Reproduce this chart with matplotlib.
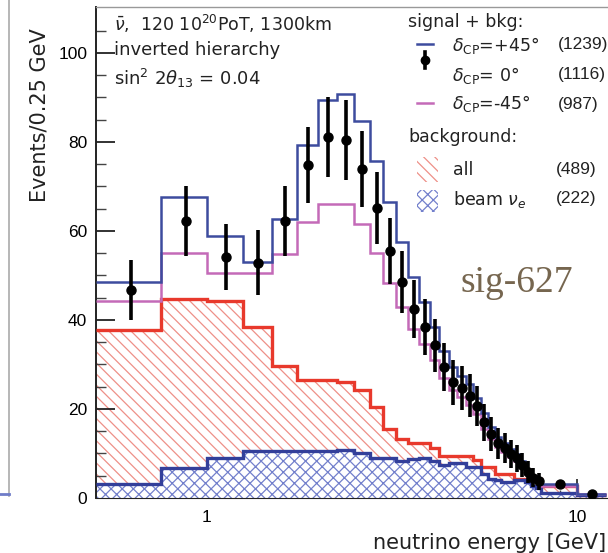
import matplotlib
matplotlib.use("Agg")
import matplotlib.pyplot as plt
from matplotlib.lines import Line2D
from matplotlib.patches import Rectangle
from matplotlib.ticker import FixedLocator, NullFormatter

# ---------------- data (events / 0.25 GeV) ----------------
bin_edges = [0.5, 0.75, 1.0, 1.25, 1.5, 1.75, 2.0, 2.25, 2.5, 2.75, 3.0, 3.25,
             3.5, 3.75, 4.0, 4.25, 4.5, 4.75, 5.0, 5.25, 5.5, 5.75, 6.0, 6.25,
             6.5, 6.75, 7.0, 7.25, 7.5, 7.75, 8.0, 10.0, 12.0]

sig_plus45 = [48.5, 67.6, 58.9, 53.1, 62.7, 79.2, 89.3, 90.8, 84.6, 75.8, 66.6,
              57.6, 49.7, 44.0, 38.5, 33.0, 29.5, 27.5, 25.5, 22.5, 19.0, 16.0,
              13.8, 12.3, 11.0, 9.8, 8.2, 6.4, 5.0, 4.2, 3.2, 0.9]
sig_zero = [46.7, 62.2, 54.2, 52.9, 62.2, 74.8, 81.0, 80.4, 73.9, 65.2, 55.5,
            48.5, 42.5, 38.4, 34.3, 29.5, 26.0, 24.7, 23.0, 20.6, 17.0, 14.4,
            12.3, 11.2, 9.9, 8.9, 7.4, 5.8, 4.6, 3.8, 3.1, 0.8]
sig_zero_err = [6.8, 7.9, 7.4, 7.3, 7.9, 8.6, 9.0, 9.0, 8.6, 8.1, 7.4, 7.0, 6.5,
                6.2, 5.9, 5.4, 5.1, 5.0, 4.8, 4.5, 4.1, 3.8, 3.5, 3.3, 3.1, 3.0,
                2.7, 2.4, 2.1, 1.9, 0.6, 0.3]
sig_minus45 = [44.3, 55.0, 50.6, 50.6, 54.9, 62.1, 66.1, 66.1, 61.6, 55.0, 48.3,
               43.0, 38.0, 34.5, 31.0, 27.0, 24.3, 22.7, 21.0, 18.8, 15.5, 13.2,
               11.4, 10.3, 9.1, 8.2, 6.9, 5.4, 4.3, 3.6, 2.8, 0.8]
bkg_all = [37.8, 44.7, 44.3, 38.5, 29.7, 26.5, 26.5, 26.1, 24.3, 20.4, 15.4,
           13.2, 12.3, 12.3, 11.2, 9.4, 9.4, 9.4, 9.4, 8.5, 7.0, 7.0, 5.5, 5.5,
           5.5, 4.2, 4.2, 4.2, 4.2, 4.2, 2.6, 0.6]
bkg_beam = [3.1, 6.8, 9.0, 10.6, 10.6, 10.6, 10.6, 10.8, 10.0, 8.9, 8.9, 8.2,
            8.7, 8.9, 8.2, 7.4, 7.8, 7.8, 7.0, 7.0, 5.5, 4.2, 4.0, 3.7, 3.7,
            4.1, 4.0, 3.6, 2.6, 2.2, 1.1, 0.6]

legend_counts = ["(1239)", "(1116)", "(987)", "(489)", "(222)"]

bin_centers = [(a + b) / 2 for a, b in zip(bin_edges[:-1], bin_edges[1:])]

# ---------------- style ----------------
W, H = 608, 553
C_BLUE = "#3d4c9e"
C_PINK = "#c46ab8"
C_RED = "#e8392c"
C_RED_H = "#ee9088"
C_BEAM = "#333f9a"
C_BEAM_H = "#7380cc"
TXT = "DejaVu Sans"
HATCH_RED = "\\\\\\"
HATCH_BEAM = "xxx"

plt.rcParams["font.family"] = ["Liberation Sans", "DejaVu Sans"]
plt.rcParams["mathtext.fontset"] = "dejavusans"
plt.rcParams["hatch.linewidth"] = 0.9

fig = plt.figure(figsize=(W / 100, H / 100), dpi=100)


def fx(px):
    return px / W


def fy(py):
    return 1 - py / H


ax = fig.add_axes([95.6 / W, 1 - 498 / H, 517.2 / W, 491 / H])
ax.set_xscale("log")
ax.set_xlim(0.5, 12.5)
ax.set_ylim(0, 110.3)

# background fills
ax.stairs(bkg_all, bin_edges, baseline=0, fill=True, facecolor="none",
          edgecolor=C_RED_H, hatch=HATCH_RED, linewidth=0, zorder=1)
ax.stairs(bkg_beam, bin_edges, baseline=0, fill=True, facecolor="white",
          edgecolor=C_BEAM_H, hatch=HATCH_BEAM, linewidth=0, zorder=2)
ax.stairs(bkg_all, bin_edges, baseline=None, color=C_RED, linewidth=2.4, zorder=3)
ax.stairs(bkg_beam, bin_edges, baseline=None, color=C_BEAM, linewidth=2.4, zorder=4)

# signal + background
ax.stairs(sig_minus45, bin_edges, baseline=None, color=C_PINK, linewidth=1.8, zorder=5)
ax.stairs(sig_plus45, bin_edges, baseline=None, color=C_BLUE, linewidth=1.8, zorder=6)
ax.errorbar(bin_centers, sig_zero, yerr=sig_zero_err, fmt="o", color="black",
            markersize=6.5, elinewidth=2.6, capsize=0, zorder=7)

# axes styling
ax.spines["right"].set_visible(False)
ax.spines["top"].set_color("#999999")
ax.spines["top"].set_linewidth(1.0)
ax.spines["left"].set_color("#222222")
ax.spines["left"].set_linewidth(1.4)
ax.spines["bottom"].set_color("#222222")

ax.set_yticks([0, 20, 40, 60, 80, 100])
ax.yaxis.set_minor_locator(FixedLocator([5, 10, 15, 25, 30, 35, 45, 50, 55, 65,
                                         70, 75, 85, 90, 95, 105]))
ax.set_xticks([1, 10], labels=["1", "10"])
ax.xaxis.set_minor_locator(FixedLocator([0.6, 0.7, 0.8, 0.9, 2, 3, 4, 5, 6, 7, 8, 9]))
ax.xaxis.set_minor_formatter(NullFormatter())
ax.tick_params(axis="y", which="major", direction="in", length=14, width=1.3,
               labelsize=12.5, pad=6, color="#222222")
ax.tick_params(axis="y", which="minor", direction="in", length=7, width=1.0,
               color="#444444")
ax.tick_params(axis="x", which="major", direction="in", length=14, width=1.2,
               labelsize=12.5, pad=9, color="#222222")
ax.tick_params(axis="x", which="minor", direction="in", length=6, width=1.0,
               color="#444444")

# axis titles
fig.text(fx(40), fy(28), "Events/0.25 GeV", rotation=90, ha="center", va="top",
         fontsize=15, family=TXT, color="#222222")
fig.text(fx(606), fy(543), "neutrino energy [GeV]", ha="right", va="center",
         fontsize=15, family=TXT, color="#222222")

# info text
fig.text(fx(114), fy(24), r"$\bar{\nu}$,  120 10$^{20}$PoT, 1300km",
         ha="left", va="center", fontsize=12.5, family=TXT, color="#222222")
fig.text(fx(114), fy(50), "inverted hierarchy", ha="left", va="center",
         fontsize=13, family=TXT, color="#222222")
fig.text(fx(114), fy(78), r"sin$^{2}$ 2$\theta_{13}$ = 0.04", ha="left",
         va="center", fontsize=13, family=TXT, color="#222222")

# legend
fig.text(fx(408), fy(22), "signal + bkg:", ha="left", va="center", fontsize=12.5,
         family=TXT, color="#222222")
fig.add_artist(Line2D([fx(417), fx(433)], [fy(44), fy(44)], color=C_BLUE, lw=1.8))
fig.add_artist(Line2D([fx(425), fx(425)], [fy(52), fy(68)], color="black", lw=2.6))
fig.add_artist(Line2D([fx(425)], [fy(60)], marker="o", color="black", markersize=6))
fig.add_artist(Line2D([fx(417), fx(433)], [fy(103), fy(103)], color=C_PINK, lw=1.8))
legend_labels = [r"$\delta_{\rm CP}$=+45°", r"$\delta_{\rm CP}$= 0°",
                 r"$\delta_{\rm CP}$=-45°"]
for lab, cnt, yy in zip(legend_labels, legend_counts[:3], (45, 75, 104)):
    fig.text(fx(452), fy(yy), lab, ha="left", va="center", fontsize=12.5,
             family=TXT, color="#222222")
    fig.text(fx(558), fy(yy), cnt, ha="left", va="center", fontsize=12.5,
             family="Liberation Sans", color="#222222")
fig.text(fx(408), fy(137), "background:", ha="left", va="center", fontsize=12.5,
         family=TXT, color="#222222")
fig.add_artist(Rectangle((fx(417), fy(182)), fx(438) - fx(417), fy(157) - fy(182),
                         facecolor="none", edgecolor=C_RED_H, hatch=HATCH_RED, lw=0))
fig.add_artist(Rectangle((fx(417), fy(212)), fx(438) - fx(417), fy(190) - fy(212),
                         facecolor="none", edgecolor=C_BEAM_H, hatch=HATCH_BEAM, lw=0))
fig.text(fx(453), fy(170), "all", ha="left", va="center", fontsize=12.5,
         family=TXT, color="#222222")
fig.text(fx(453), fy(199), r"beam $\nu_e$", ha="left", va="center", fontsize=12.5,
         family=TXT, color="#222222")
fig.text(fx(556), fy(170), legend_counts[3], ha="left", va="center", fontsize=12.5,
         family="Liberation Sans", color="#222222")
fig.text(fx(556), fy(199), legend_counts[4], ha="left", va="center", fontsize=12.5,
         family="Liberation Sans", color="#222222")

# watermark
fig.text(fx(517), fy(283), "sig-627", ha="center", va="center", fontsize=27,
         family="Liberation Serif", color="#76664f")

# edge of neighbouring panel
fig.add_artist(Line2D([fx(9), fx(9)], [fy(0), fy(496)], color="#aaaaaa", lw=1.2))
fig.add_artist(Line2D([fx(0), fx(9)], [fy(494), fy(494)], color="#6f7cc8", lw=2))

fig.savefig("out.png", dpi=100)
